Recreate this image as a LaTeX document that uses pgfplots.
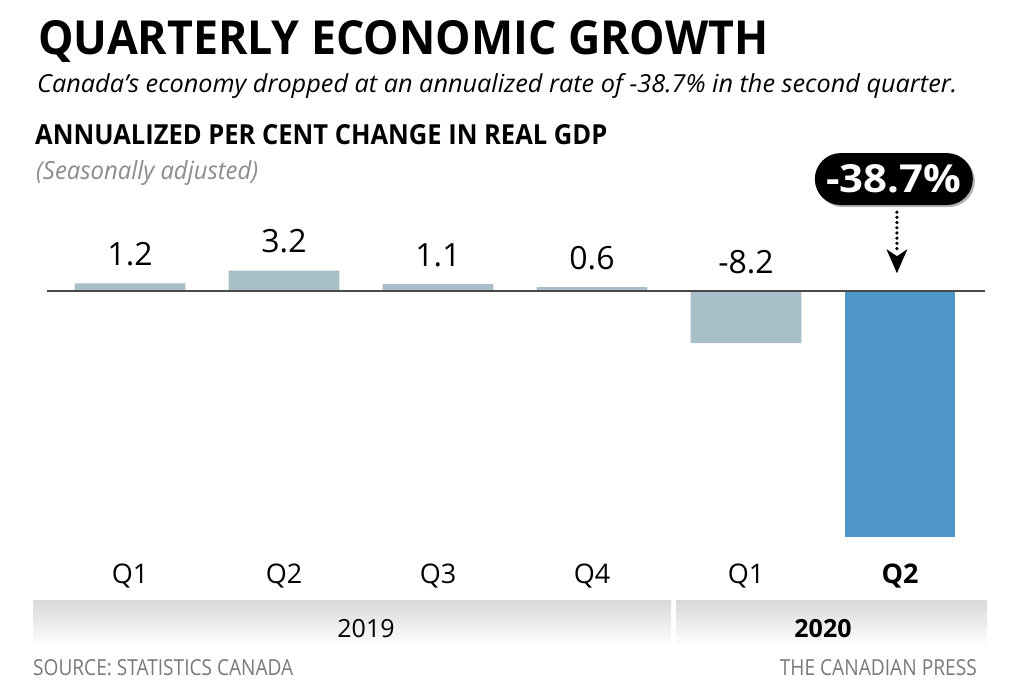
\documentclass[border=0pt]{standalone}
\usepackage{fontspec}
\setmainfont{Open Sans}
\usepackage{pgfplots}
\pgfplotsset{compat=1.18}
\usetikzlibrary{arrows.meta}
\definecolor{barlight}{HTML}{A8BEC9}
\definecolor{bardark}{HTML}{4F97C6}
\definecolor{zeroline}{HTML}{4A4A4A}
\definecolor{subgray}{HTML}{8C8C8C}
\definecolor{footgray}{HTML}{7A7A7A}
\begin{document}
\begin{tikzpicture}[x=1pt,y=1pt]
\path[use as bounding box, fill=white] (0,0) rectangle (1036,-698);
% titles
\node[anchor=base west, inner sep=0] at (38,-55) {\resizebox{730pt}{34pt}{\bfseries QUARTERLY ECONOMIC GROWTH}};
\node[anchor=base west, inner sep=0] at (37,-93) {\resizebox{920pt}{19pt}{\itshape Canada’s economy dropped at an annualized rate of -38.7\% in the second quarter.}};
\node[anchor=base west, inner sep=0] at (35,-144) {\resizebox{572pt}{20pt}{\bfseries ANNUALIZED PER CENT CHANGE IN REAL GDP}};
\node[anchor=base west, inner sep=0, text=subgray] at (36,-179) {\resizebox{222pt}{19pt}{\itshape (Seasonally adjusted)}};
% year bands
\shade[top color=black!15, bottom color=white] (33,-600) rectangle (671,-646);
\shade[top color=black!15, bottom color=white] (676,-600) rectangle (987,-646);
\node[anchor=base, inner sep=0] at (366,-637) {\fontsize{25}{25}\selectfont 2019};
\node[anchor=base, inner sep=0] at (823,-637) {\fontsize{25}{25}\selectfont\bfseries 2020};
% footer
\node[anchor=base west, inner sep=0, text=footgray] at (33,-675) {\resizebox{260pt}{16pt}{SOURCE: STATISTICS CANADA}};
\node[anchor=base east, inner sep=0, text=footgray] at (977,-675) {\resizebox{197pt}{16pt}{THE CANADIAN PRESS}};
\begin{axis}[
  anchor=origin, at={(130pt,-291pt)},
  scale only axis, width=938pt, height=286.2pt,
  xmin=-0.539, xmax=5.552, ymin=-40, ymax=5,
  clip=false,
  axis y line=none,
  axis x line=bottom,
  x axis line style={draw=none},
  major tick length=0pt,
  ytick=\empty,
  xtick={0,1,2,3,4,5},
  xticklabels={Q1,Q2,Q3,Q4,Q1,\textbf{Q2}},
  xticklabel style={anchor=base, inner sep=0pt, yshift=-38pt, font=\fontsize{27}{27}\selectfont},
]
\addplot[ybar, bar width=0.72, bar shift=0pt, fill=barlight, draw=none]
  coordinates {(0,1.2) (1,3.2) (2,1.1) (3,0.6) (4,-8.2)};
\addplot[ybar, bar width=0.72, bar shift=0pt, fill=bardark, draw=none]
  coordinates {(5,-38.7)};
% value labels
\addplot[draw=none, mark=none, nodes near coords, point meta=explicit symbolic,
  every node near coord/.append style={anchor=base, inner sep=0pt, yshift=18pt, font=\fontsize{32}{32}\selectfont}]
  coordinates {(0,1.2)[1.2] (1,3.2)[3.2] (2,1.1)[1.1] (3,0.6)[0.6] (4,0)[-8.2]};
\draw[zeroline, line width=2pt] (axis cs:-0.539,0) -- (axis cs:5.552,0);
% callout
\node[fill=black!30, rounded corners=26pt, minimum width=158pt, minimum height=52pt, inner sep=0] at ([xshift=2pt,yshift=-2pt]axis cs:4.96,17.6) {};
\node[fill=black, text=white, rounded corners=26pt, minimum width=158pt, minimum height=52pt, inner sep=0] at (axis cs:4.96,17.6) {\resizebox{135pt}{28pt}{\bfseries -38.7\%}};
\draw[line width=3.6pt, line cap=round, dash pattern=on 0pt off 5.2pt] (axis cs:4.98,12.4) -- (axis cs:4.98,6.4);
\fill (axis cs:4.98,2.8) -- ++(-10.5pt,24pt) -- ++(10.5pt,-7pt) -- ++(10.5pt,7pt) -- cycle;
\end{axis}
\end{tikzpicture}
\end{document}
